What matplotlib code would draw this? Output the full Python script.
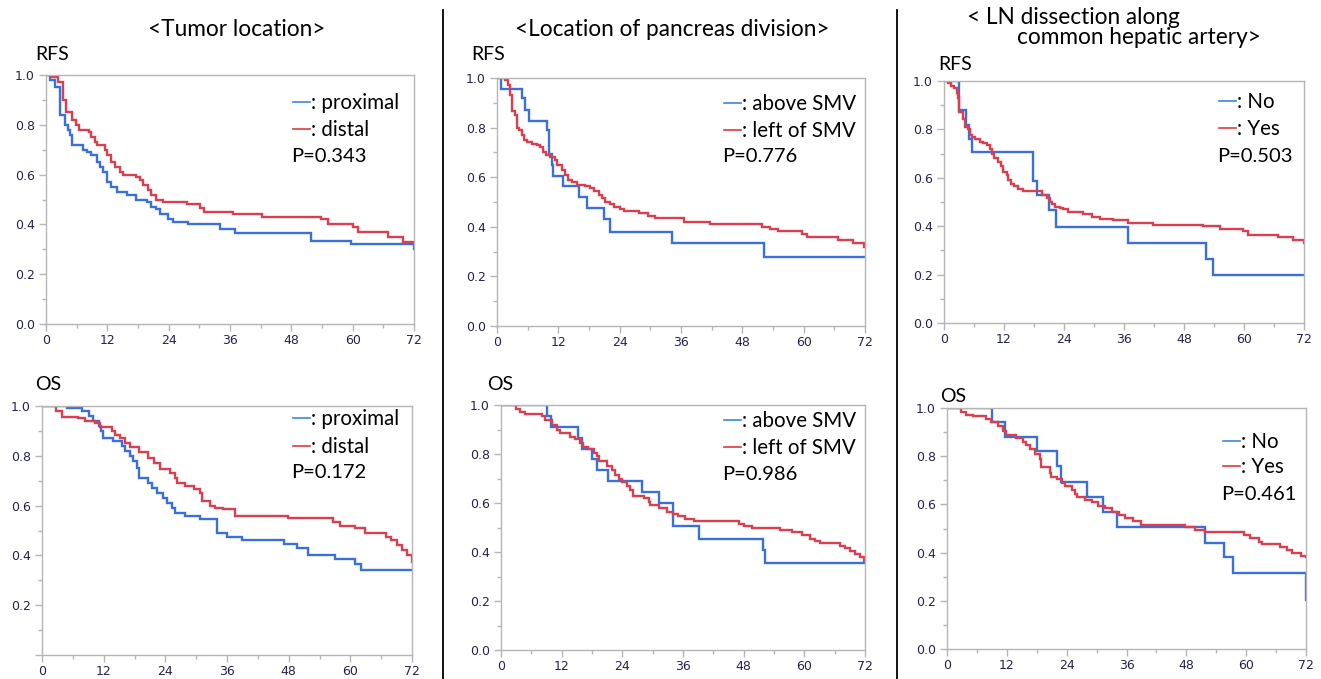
import matplotlib
matplotlib.use("Agg")
import matplotlib.pyplot as plt
from matplotlib.lines import Line2D
from matplotlib.ticker import MultipleLocator

W, H = 1321, 679

# ---------------- data (months, survival probability) ----------------
p1_blue_t = [0, 0.8, 1.8, 2.7, 3.8, 4.3, 4.7, 5.1, 7.2, 8.0, 8.9, 9.9, 10.5, 11.2, 11.9, 12.8, 13.8, 15.8, 17.7,
             19.7, 20.6, 21.6, 22.3, 23.9, 24.9, 27.8, 34.0, 36.9, 51.9, 59.7, 72]
p1_blue_s = [1.0, 0.98, 0.95, 0.84, 0.80, 0.78, 0.76, 0.72, 0.70, 0.69, 0.68, 0.65, 0.63, 0.61, 0.57, 0.55, 0.53,
             0.52, 0.50, 0.49, 0.47, 0.46, 0.44, 0.42, 0.41, 0.40, 0.38, 0.365, 0.335, 0.32, 0.30]
p1_red_t = [0, 1.0, 2.4, 3.3, 4.0, 5.0, 5.9, 6.5, 8.5, 8.9, 9.6, 9.9, 11.5, 12.0, 12.8, 13.5, 14.5, 15.1, 17.7, 18.4,
            19.0, 20.0, 20.6, 21.6, 22.9, 27.5, 30.1, 31.0, 36.6, 42.2, 53.9, 55.2, 60.1, 61.0, 66.9, 69.8, 72]
p1_red_s = [1.0, 0.99, 0.97, 0.90, 0.85, 0.82, 0.80, 0.78, 0.77, 0.75, 0.73, 0.72, 0.70, 0.68, 0.65, 0.63, 0.61, 0.60,
            0.59, 0.58, 0.56, 0.54, 0.52, 0.50, 0.49, 0.48, 0.465, 0.45, 0.44, 0.43, 0.42, 0.40, 0.39, 0.37, 0.35,
            0.33, 0.325]

p2_blue_t = [0, 4.9, 7.8, 9.1, 10.0, 11.0, 11.5, 11.9, 13.9, 15.5, 16.2, 17.2, 17.8, 18.5, 18.8, 20.7, 21.4, 22.3,
             23.6, 24.3, 25.3, 25.9, 27.8, 30.8, 34.0, 36.0, 38.9, 47.0, 49.6, 51.8, 57.0, 60.9, 62.0, 72]
p2_blue_s = [1.0, 0.99, 0.98, 0.96, 0.94, 0.92, 0.90, 0.87, 0.86, 0.84, 0.82, 0.80, 0.78, 0.75, 0.71, 0.69, 0.67,
             0.65, 0.63, 0.61, 0.59, 0.57, 0.56, 0.545, 0.49, 0.475, 0.46, 0.445, 0.43, 0.40, 0.385, 0.365, 0.34, 0.34]
p2_red_t = [0, 2.8, 3.9, 7.1, 8.4, 10.4, 11.3, 13.6, 14.2, 15.2, 16.2, 17.2, 18.8, 20.7, 21.7, 22.9, 24.9, 25.9, 26.2,
            27.8, 29.5, 30.8, 31.1, 32.7, 33.7, 35.3, 37.6, 47.9, 56.7, 58.0, 60.9, 62.8, 67.0, 68.0, 69.0, 70.0,
            71.0, 72]
p2_red_s = [1.0, 0.98, 0.955, 0.95, 0.94, 0.93, 0.915, 0.90, 0.885, 0.87, 0.85, 0.835, 0.815, 0.79, 0.77, 0.745,
            0.73, 0.71, 0.69, 0.68, 0.665, 0.65, 0.62, 0.60, 0.59, 0.585, 0.56, 0.55, 0.535, 0.52, 0.51, 0.49, 0.475,
            0.46, 0.44, 0.42, 0.40, 0.375]

p3_blue_t = [0, 0.8, 4.9, 5.5, 6.3, 9.8, 10.1, 10.7, 10.9, 13.0, 16.0, 17.6, 21.0, 22.1, 34.2, 52.3, 72]
p3_blue_s = [1.0, 0.955, 0.92, 0.87, 0.825, 0.79, 0.695, 0.65, 0.605, 0.565, 0.52, 0.475, 0.43, 0.38, 0.335, 0.277,
             0.277]
p3_red_t = [0, 1.6, 2.1, 2.6, 2.9, 3.6, 3.9, 4.4, 4.8, 5.2, 5.9, 6.9, 7.8, 8.5, 9.0, 9.5, 10.4, 11.4, 11.7, 12.7,
            13.4, 13.9, 14.7, 15.6, 17.3, 18.2, 18.9, 19.9, 20.5, 21.2, 22.2, 22.8, 24.1, 24.8, 27.7, 29.6, 30.9,
            36.5, 41.7, 51.8, 53.4, 55.0, 59.6, 60.6, 66.8, 69.7, 71.9, 72]
p3_red_s = [1.0, 0.99, 0.97, 0.93, 0.865, 0.85, 0.80, 0.79, 0.77, 0.75, 0.74, 0.735, 0.73, 0.72, 0.70, 0.69, 0.68,
            0.67, 0.65, 0.63, 0.61, 0.59, 0.58, 0.57, 0.565, 0.555, 0.545, 0.53, 0.515, 0.50, 0.49, 0.48, 0.47, 0.465,
            0.455, 0.445, 0.435, 0.42, 0.41, 0.40, 0.39, 0.385, 0.37, 0.36, 0.345, 0.335, 0.32, 0.32]

p4_blue_t = [0, 9.1, 9.9, 15.3, 16.0, 18.0, 19.0, 21.1, 27.9, 31.2, 34.1, 39.1, 51.9, 52.2, 72]
p4_blue_s = [1.0, 0.955, 0.91, 0.865, 0.82, 0.78, 0.735, 0.69, 0.645, 0.60, 0.505, 0.455, 0.41, 0.355, 0.355]
p4_red_t = [0, 3.0, 3.8, 4.8, 8.1, 8.8, 10.1, 11.1, 11.7, 13.7, 14.7, 15.7, 16.3, 17.3, 18.3, 19.0, 19.3, 20.9, 21.9,
            22.6, 23.3, 23.9, 24.9, 25.6, 26.2, 28.2, 29.2, 29.5, 31.2, 32.8, 34.1, 35.1, 36.4, 38.1, 47.0, 48.0,
            49.6, 55.2, 57.5, 59.5, 61.1, 62.1, 63.1, 67.1, 68.0, 69.0, 70.0, 71.0, 71.9, 72]
p4_red_s = [1.0, 0.985, 0.97, 0.965, 0.955, 0.94, 0.92, 0.90, 0.885, 0.87, 0.86, 0.845, 0.83, 0.82, 0.805, 0.79,
            0.77, 0.75, 0.735, 0.715, 0.70, 0.685, 0.67, 0.655, 0.63, 0.62, 0.605, 0.59, 0.58, 0.565, 0.555, 0.545,
            0.535, 0.525, 0.515, 0.505, 0.50, 0.49, 0.48, 0.47, 0.455, 0.445, 0.435, 0.425, 0.415, 0.405, 0.39,
            0.38, 0.365, 0.365]

p5_blue_t = [0, 2.9, 4.3, 4.9, 5.5, 17.8, 18.5, 20.9, 22.3, 36.8, 52.3, 53.8, 72]
p5_blue_s = [1.0, 0.88, 0.82, 0.76, 0.705, 0.585, 0.53, 0.465, 0.395, 0.33, 0.265, 0.197, 0.197]
p5_red_t = [0, 0.7, 1.3, 2.0, 2.5, 2.8, 3.0, 3.8, 4.1, 4.8, 5.1, 5.6, 6.1, 7.1, 7.8, 8.5, 9.1, 9.6, 10.0, 10.7, 11.3,
            11.8, 12.5, 12.8, 13.3, 14.0, 14.8, 15.8, 19.5, 20.5, 21.1, 21.5, 22.1, 23.1, 23.8, 24.8, 27.8, 29.5,
            31.2, 33.8, 36.8, 41.8, 51.8, 55.2, 59.8, 60.8, 66.8, 69.8, 71.9, 72]
p5_red_s = [1.0, 0.99, 0.98, 0.97, 0.95, 0.93, 0.87, 0.845, 0.81, 0.80, 0.775, 0.77, 0.76, 0.75, 0.745, 0.735, 0.72,
            0.70, 0.68, 0.665, 0.65, 0.625, 0.61, 0.59, 0.575, 0.565, 0.555, 0.545, 0.53, 0.515, 0.50, 0.49, 0.48,
            0.475, 0.47, 0.46, 0.45, 0.44, 0.43, 0.425, 0.415, 0.405, 0.40, 0.39, 0.38, 0.365, 0.355, 0.345, 0.33,
            0.33]

p6_blue_t = [0, 9.1, 11.7, 18.1, 22.1, 22.8, 28.0, 31.2, 34.0, 51.8, 55.5, 57.3, 72]
p6_blue_s = [1.0, 0.94, 0.88, 0.82, 0.76, 0.695, 0.63, 0.57, 0.505, 0.44, 0.38, 0.315, 0.205]
p6_red_t = [0, 2.9, 3.9, 5.2, 7.9, 8.9, 10.2, 11.3, 11.9, 13.9, 15.3, 15.9, 16.6, 17.6, 18.6, 18.9, 20.6, 20.9, 22.0,
            23.0, 23.6, 25.0, 25.7, 26.0, 27.7, 29.0, 30.3, 31.7, 33.0, 34.4, 35.7, 37.4, 39.0, 47.8, 49.8, 51.8,
            59.5, 60.8, 62.5, 63.2, 66.8, 68.2, 69.2, 70.9, 72]
p6_red_s = [1.0, 0.985, 0.97, 0.965, 0.955, 0.94, 0.925, 0.905, 0.89, 0.875, 0.86, 0.845, 0.83, 0.81, 0.79, 0.755,
            0.73, 0.715, 0.705, 0.69, 0.675, 0.66, 0.645, 0.63, 0.62, 0.61, 0.595, 0.585, 0.57, 0.555, 0.545, 0.53,
            0.515, 0.505, 0.495, 0.485, 0.475, 0.46, 0.445, 0.435, 0.425, 0.41, 0.40, 0.385, 0.38]

section_titles = ["<Tumor location>", "<Location of pancreas division>"]
ln_title = ["< LN dissection along", "common hepatic artery>"]
legend_labels = [(": proximal", ": distal"), (": above SMV", ": left of SMV"), (": No", ": Yes")]
p_values = ["P=0.343", "P=0.172", "P=0.776", "P=0.986", "P=0.503", "P=0.461"]
x_ticks = [0, 12, 24, 36, 48, 60, 72]
y_ticks = [0.0, 0.2, 0.4, 0.6, 0.8, 1.0]

# ---------------- style ----------------
FONT = "Lato"
BLUE = "#3b6fdc"
RED = "#d8404f"
LEG_BLUE = "#3a8ad8"
LEG_RED = "#e03a3a"
SPINE = "#b5b5b5"
TICKLAB = "#23234f"

fig = plt.figure(figsize=(W / 100, H / 100), dpi=100)
fig.patch.set_facecolor("white")


def px_rect(x0, y0, x1, y1):
    return [x0 / W, 1 - y1 / H, (x1 - x0) / W, (y1 - y0) / H]


def ftext(x, y, s, size=15, ha="left"):
    fig.text(x / W, 1 - y / H, s, fontsize=size, family=FONT, ha=ha, va="center", color="black")


def fline(x0, x1, y, color, lw=1.2):
    fig.add_artist(Line2D([x0 / W, x1 / W], [1 - y / H, 1 - y / H], color=color, lw=lw,
                          transform=fig.transFigure))


panels = [
    dict(box=(46, 75, 414, 324), b=(p1_blue_t, p1_blue_s), r=(p1_red_t, p1_red_s), leg=0, lab="RFS",
         labpos=(35, 54), legx=293, legy=(102, 129), px=291, py=157, zero=True),
    dict(box=(42, 406, 412, 655), b=(p2_blue_t, p2_blue_s), r=(p2_red_t, p2_red_s), leg=0, lab="OS",
         labpos=(35, 384), legx=293, legy=(418, 446), px=291, py=473, zero=False),
    dict(box=(497, 78, 865, 326), b=(p3_blue_t, p3_blue_s), r=(p3_red_t, p3_red_s), leg=1, lab="RFS",
         labpos=(471, 54), legx=724, legy=(103, 130), px=722, py=157, zero=True),
    dict(box=(501, 405, 865, 650), b=(p4_blue_t, p4_blue_s), r=(p4_red_t, p4_red_s), leg=1, lab="OS",
         labpos=(487, 385), legx=724, legy=(420, 447), px=722, py=475, zero=True),
    dict(box=(944, 81, 1304, 323), b=(p5_blue_t, p5_blue_s), r=(p5_red_t, p5_red_s), leg=2, lab="RFS",
         labpos=(938, 64), legx=1219, legy=(101, 128), px=1217, py=157, zero=True),
    dict(box=(947, 408, 1306, 649), b=(p6_blue_t, p6_blue_s), r=(p6_red_t, p6_red_s), leg=2, lab="OS",
         labpos=(940, 397), legx=1223, legy=(441, 466), px=1221, py=494, zero=True),
]

for i, p in enumerate(panels):
    ax = fig.add_axes(px_rect(*p["box"]))
    ax.step(p["b"][0], p["b"][1], where="post", color=BLUE, lw=1.7, solid_joinstyle="miter")
    ax.step(p["r"][0], p["r"][1], where="post", color=RED, lw=1.7, solid_joinstyle="miter")
    ax.set_xlim(0, 72)
    ax.set_ylim(0, 1)
    ax.set_xticks(x_ticks)
    ax.xaxis.set_minor_locator(MultipleLocator(6))
    ax.set_yticks(y_ticks)
    ax.yaxis.set_minor_locator(MultipleLocator(0.1))
    ylabels = [f"{v:.1f}" for v in y_ticks]
    if not p["zero"]:
        ylabels[0] = ""
    ax.set_yticklabels(ylabels)
    ax.set_xticklabels([str(v) for v in x_ticks])
    for sp in ax.spines.values():
        sp.set_color(SPINE)
        sp.set_linewidth(1.0)
    ax.tick_params(which="major", direction="out", length=5, width=1, color=SPINE,
                   labelsize=9, labelcolor=TICKLAB, pad=2.5)
    ax.tick_params(which="minor", direction="out", length=3, width=1, color=SPINE)
    ax.tick_params(axis="y", which="major", pad=3)

    ftext(p["labpos"][0], p["labpos"][1], p["lab"], size=14)
    lb, lr = legend_labels[p["leg"]]
    fline(p["legx"], p["legx"] + 17, p["legy"][0], LEG_BLUE)
    fline(p["legx"], p["legx"] + 17, p["legy"][1], LEG_RED)
    ftext(p["legx"] + 18, p["legy"][0] + 1, lb, size=14.8)
    ftext(p["legx"] + 18, p["legy"][1] + 1, lr, size=14.8)
    ftext(p["px"], p["py"], p_values[i], size=14.5)

# section titles
ftext(237, 30, section_titles[0], size=16.3, ha="center")
ftext(672, 30, section_titles[1], size=16.3, ha="center")
ftext(967, 17, ln_title[0], size=16.3)
ftext(1017, 37, ln_title[1], size=16.3)

# separators
for xs in (443, 897):
    fig.add_artist(Line2D([xs / W, xs / W], [1 - 10 / H, 0], color="black", lw=1.3,
                          transform=fig.transFigure))

fig.savefig("out.png", dpi=100, facecolor="white")
